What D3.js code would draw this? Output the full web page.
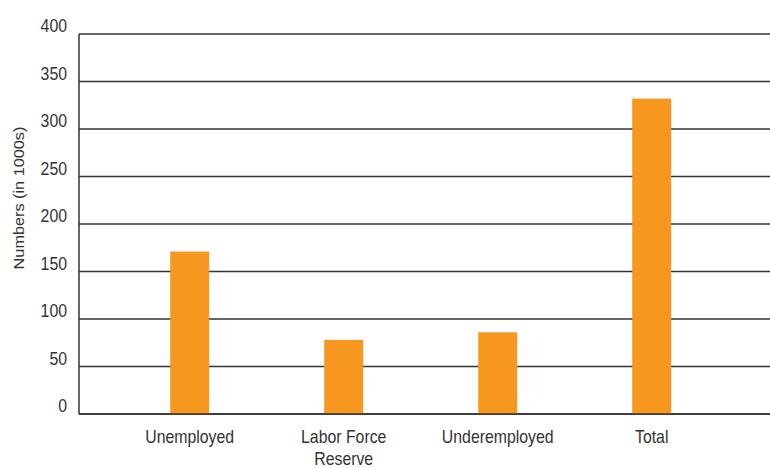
<!DOCTYPE html>
<html>
<head>
<meta charset="utf-8">
<script src="https://cdn.jsdelivr.net/npm/d3@7"></script>
<style>
  html, body { margin: 0; padding: 0; background: #fff; }
  svg { display: block; }
  text { font-family: "Liberation Sans", Arial, sans-serif; fill: #333; }
</style>
</head>
<body>
<svg id="chart" width="770" height="468"></svg>
<script>
const categories = ["Unemployed", "Labor Force\nReserve", "Underemployed", "Total"];
const values = [171, 78, 86, 332];
const yTicks = [0, 50, 100, 150, 200, 250, 300, 350, 400];
const yTitle = "Numbers (in 1000s)";

const mLeft = 79, mRight = 770, mTop = 34, mBottom = 414;
const condense = 0.88;
const svg = d3.select("#chart");

const y = d3.scaleLinear().domain([0, 400]).range([mBottom, mTop]);
const x = d3.scaleBand().domain(categories).range([mLeft, mRight])
  .paddingInner(0.747).paddingOuter(0.617).align(0.48);

// gridlines
svg.append("g").selectAll("line").data(yTicks).join("line")
  .attr("x1", mLeft).attr("x2", mRight)
  .attr("y1", d => y(d)).attr("y2", d => y(d))
  .attr("stroke", "#333").attr("stroke-width", 1.3);

// left axis line
svg.append("line").attr("x1", mLeft).attr("x2", mLeft)
  .attr("y1", y(400)).attr("y2", y(0))
  .attr("stroke", "#333").attr("stroke-width", 1.5);

// bars
svg.append("g").selectAll("rect").data(values).join("rect")
  .attr("x", (d, i) => x(categories[i]))
  .attr("width", x.bandwidth())
  .attr("y", d => y(d))
  .attr("height", d => y(0) - y(d))
  .attr("fill", "#F7971F");

// bottom axis line on top
svg.append("line").attr("x1", mLeft).attr("x2", mRight)
  .attr("y1", y(0)).attr("y2", y(0))
  .attr("stroke", "#333").attr("stroke-width", 1.5);

// y tick labels
svg.append("g").selectAll("g").data(yTicks).join("g")
  .attr("transform", d => `translate(67,${y(d) - 2})`)
  .append("text")
  .attr("transform", `scale(${condense},1)`)
  .attr("text-anchor", "end")
  .attr("font-size", 18)
  .text(d => d);

// x labels
svg.append("g").selectAll("g").data(categories).join("g")
  .attr("transform", d => `translate(${x(d) + x.bandwidth() / 2},443)`)
  .append("text")
  .attr("transform", `scale(${condense},1)`)
  .attr("text-anchor", "middle")
  .attr("font-size", 18)
  .each(function(d) {
    const t = d3.select(this);
    d.split("\n").forEach((line, i) => {
      t.append("tspan").attr("x", 0).attr("dy", i === 0 ? 0 : 22).text(line);
    });
  });

// y title
svg.append("g")
  .attr("transform", "translate(24,198) rotate(-90)")
  .append("text")
  .attr("text-anchor", "middle")
  .attr("font-size", 15.5)
  .attr("transform", "scale(1.05,1)")
  .text(yTitle);
</script>
</body>
</html>
